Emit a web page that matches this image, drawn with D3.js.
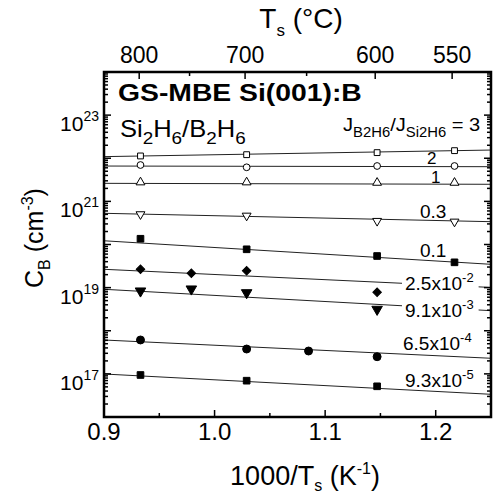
<!DOCTYPE html>
<html>
<head>
<meta charset="utf-8">
<script src="https://cdn.jsdelivr.net/npm/d3@7"></script>
<style>
  body { margin: 0; background: #fff; }
  svg { display: block; font-family: "Liberation Sans", Arial, sans-serif; }
</style>
</head>
<body>
<svg id="chart" width="493" height="497"></svg>
<script>
// axis ticks
const xTicksMajor = [0.9, 1.0, 1.1, 1.2]
const xTicksMinor = [0.95, 1.05, 1.15]
const tempTicksMajor = [800, 700, 600, 550]
const tempTicksMinor = [750, 650]
const yLabelExps = [17, 19, 21, 23]

// J(B2H6)/J(Si2H6) flux ratios: [mantissa, exponent]
const ratioLabels = [
  ['2', null], ['1', null], ['0.3', null], ['0.1', null],
  ['2.5x10', '-2'], ['9.1x10', '-3'], ['6.5x10', '-4'], ['9.3x10', '-5'],
]

// 1000/Ts of the measurements
const xMain = [0.933, 1.029, 1.147, 1.217]
const xWithMid750 = [0.933, 0.979, 1.029, 1.147]
const xWithMid650 = [0.933, 1.029, 1.085, 1.147]
const xLowest = [0.933, 1.029, 1.147]
const seriesX = [xMain, xMain, xMain, xMain, xMain, xWithMid750, xWithMid750, xWithMid650, xLowest]

// boron concentration C_B (cm^-3), one array per flux ratio
const cb3 = [1.13e22, 1.21e22, 1.35e22, 1.50e22]
const cb2 = [6.97e21, 6.17e21, 6.61e21, 6.61e21]
const cb1 = [2.77e21, 2.77e21, 2.71e21, 2.71e21]
const cb03 = [5.01e20, 4.65e20, 3.51e20, 3.38e20]
const cb01 = [1.36e20, 7.74e19, 5.41e19, 3.86e19]
const cb25e2 = [2.66e19, 2.15e19, 2.47e19, 7.79e18]
const cb91e3 = [8.35e18, 9.29e18, 7.62e18, 3.14e18]
const cb65e4 = [6.11e17, 3.77e17, 3.39e17, 2.50e17]
const cb93e5 = [9.42e16, 6.95e16, 5.15e16]
const seriesC = [cb3, cb2, cb1, cb03, cb01, cb25e2, cb91e3, cb65e4, cb93e5]

// fitted lines, C_B at 1000/Ts = 0.9 and 1.25
const fitStart = [1.09e22, 6.6e21, 2.62e21, 5.29e20, 1.22e20, 2.66e19, 9.15e18, 6.1e17, 9.93e16]
const fitEnd = [1.55e22, 6.37e21, 2.49e21, 3.38e20, 3.47e19, 1.01e19, 2.92e18, 2.30e17, 3.36e16]

const markerTypes = ['sqOpen', 'circOpen', 'triUpOpen', 'triDownOpen', 'sqFill', 'diamond', 'triDownFill', 'circFill', 'sqFill']
const labelPos = [[427, 164], [431, 183], [420, 218], [420, 257], [405, 290], [405, 317], [403, 350], [405, 387]]

const plot = { left: 104, right: 491, top: 72, bottom: 417 }
const svg = d3.select('#chart')

const x = d3.scaleLinear().domain([0.9, 1.25]).range([plot.left, plot.right])
const y = d3.scaleLog().domain([1e16, 1e24]).range([plot.bottom, plot.top])
const tempToX = (t) => x(1000 / (t + 273.15))

// horizontally stretched text (the original figure is a bit wide)
function wideText(px, py, sx, size) {
  return svg.append('g')
    .attr('transform', `translate(${px},${py}) scale(${sx},1)`)
    .append('text')
    .attr('font-size', size)
}

// fit lines
const line = d3.line().x((d) => x(d[0])).y((d) => y(d[1]))
svg.append('g').selectAll('path')
  .data(fitStart.map((s, i) => [[0.9, s], [1.25, fitEnd[i]]]))
  .join('path')
  .attr('d', line)
  .attr('fill', 'none')
  .attr('stroke', '#222')
  .attr('stroke-width', 1)

// markers
const symbolFor = {
  sqOpen: [d3.symbolSquare, 34, 0, false],
  circOpen: [d3.symbolCircle, 36, 0, false],
  triUpOpen: [d3.symbolTriangle, 34, 0, false],
  triDownOpen: [d3.symbolTriangle, 34, 180, false],
  sqFill: [d3.symbolSquare, 44, 0, true],
  diamond: [d3.symbolSquare, 36, 45, true],
  triDownFill: [d3.symbolTriangle, 48, 180, true],
  circFill: [d3.symbolCircle, 50, 0, true],
}
const points = []
seriesC.forEach((vals, i) => {
  vals.forEach((v, j) => points.push({ x: seriesX[i][j], c: v, type: markerTypes[i] }))
})
svg.append('g').selectAll('path')
  .data(points)
  .join('path')
  .attr('d', (d) => d3.symbol(symbolFor[d.type][0], symbolFor[d.type][1])())
  .attr('transform', (d) => `translate(${x(d.x)},${y(d.c)}) rotate(${symbolFor[d.type][2]})`)
  .attr('fill', (d) => (symbolFor[d.type][3] ? '#000' : '#fff'))
  .attr('stroke', '#000')
  .attr('stroke-width', 1)

// series labels
const labelLayer = svg.append('g')
ratioLabels.forEach(([m, e], i) => {
  const g = labelLayer.append('g')
  const t = g.append('text')
    .attr('x', labelPos[i][0])
    .attr('y', labelPos[i][1])
    .attr('font-size', i < 2 ? 17 : 19)
    .text(m)
  if (e) {
    t.append('tspan').attr('dy', -8).attr('font-size', 13).text(e)
  }
  if (i === 4 || i === 5) {
    const b = t.node().getBBox()
    g.insert('rect', 'text')
      .attr('x', b.x - 3).attr('y', b.y + 2)
      .attr('width', b.width + 8).attr('height', b.height - 2)
      .attr('fill', '#fff')
  }
})

// header label J_B2H6/J_Si2H6 = 3
const hdr = wideText(343, 131, 1.06, 19)
hdr.append('tspan').text('J')
hdr.append('tspan').attr('dy', 6).attr('font-size', 14).text('B2H6')
hdr.append('tspan').attr('dy', -6).text('/J')
hdr.append('tspan').attr('dy', 6).attr('font-size', 14).text('Si2H6')
hdr.append('tspan').attr('dy', -6).text(' = 3')

// titles inside plot
wideText(118, 101, 1.18, 24)
  .attr('font-weight', 'bold')
  .text('GS-MBE Si(001):B')
const sub = wideText(120, 137, 1.11, 23)
sub.append('tspan').text('Si')
sub.append('tspan').attr('dy', 7).attr('font-size', 17).text('2')
sub.append('tspan').attr('dy', -7).text('H')
sub.append('tspan').attr('dy', 7).attr('font-size', 17).text('6')
sub.append('tspan').attr('dy', -7).text('/B')
sub.append('tspan').attr('dy', 7).attr('font-size', 17).text('2')
sub.append('tspan').attr('dy', -7).text('H')
sub.append('tspan').attr('dy', 7).attr('font-size', 17).text('6')

// ticks
const ticks = svg.append('g').attr('stroke', '#000').attr('stroke-width', 1.5)
const decades = d3.range(16, 25)
const yMinor = []
decades.slice(0, -1).forEach((e) => d3.range(2, 10).forEach((k) => yMinor.push(k * Math.pow(10, e))))
const yTicks = decades.map((e) => ({ v: Math.pow(10, e), len: 7 }))
  .concat(yMinor.map((v) => ({ v, len: 4 })))
yTicks.forEach((t) => {
  ticks.append('line').attr('x1', plot.left).attr('x2', plot.left + t.len).attr('y1', y(t.v)).attr('y2', y(t.v))
  ticks.append('line').attr('x1', plot.right).attr('x2', plot.right - t.len).attr('y1', y(t.v)).attr('y2', y(t.v))
})
xTicksMajor.map((v) => ({ v, len: 7 })).concat(xTicksMinor.map((v) => ({ v, len: 4 }))).forEach((t) => {
  ticks.append('line').attr('x1', x(t.v)).attr('x2', x(t.v)).attr('y1', plot.bottom).attr('y2', plot.bottom - t.len)
})
tempTicksMajor.map((v) => ({ v, len: 7 })).concat(tempTicksMinor.map((v) => ({ v, len: 4 }))).forEach((t) => {
  ticks.append('line').attr('x1', tempToX(t.v)).attr('x2', tempToX(t.v)).attr('y1', plot.top).attr('y2', plot.top + t.len)
})

// frame
svg.append('rect')
  .attr('x', plot.left).attr('y', plot.top)
  .attr('width', plot.right - plot.left).attr('height', plot.bottom - plot.top)
  .attr('fill', 'none').attr('stroke', '#000').attr('stroke-width', 2.5)

// tick labels
svg.append('g').selectAll('text')
  .data(xTicksMajor)
  .join('text')
  .attr('x', (d) => x(d)).attr('y', 440)
  .attr('text-anchor', 'middle').attr('font-size', 24)
  .text((d) => d3.format('.1f')(d))
svg.append('g').selectAll('text')
  .data(tempTicksMajor)
  .join('text')
  .attr('x', (d) => tempToX(d)).attr('y', 63)
  .attr('text-anchor', 'middle').attr('font-size', 23)
  .text((d) => d)
yLabelExps.forEach((e) => {
  const t = svg.append('text')
    .attr('x', 99).attr('y', y(Math.pow(10, e)) + 16)
    .attr('text-anchor', 'end').attr('font-size', 21)
  t.append('tspan').text('10')
  t.append('tspan').attr('dy', -10).attr('font-size', 14).text(e)
})

// axis titles
const xt = svg.append('text').attr('x', 305).attr('y', 485).attr('text-anchor', 'middle').attr('font-size', 27)
xt.append('tspan').text('1000/T')
xt.append('tspan').attr('dy', 6).attr('font-size', 16).text('s')
xt.append('tspan').attr('dy', -6).text(' (K')
xt.append('tspan').attr('dy', -11).attr('font-size', 16).text('-1')
xt.append('tspan').attr('dy', 11).text(')')

const tt = svg.append('text').attr('x', 301).attr('y', 28).attr('text-anchor', 'middle').attr('font-size', 28)
tt.append('tspan').text('T')
tt.append('tspan').attr('dy', 8).attr('font-size', 17).text('s')
tt.append('tspan').attr('dy', -8).text(' (°C)')

const yt = svg.append('text')
  .attr('transform', 'translate(43,238) rotate(-90)')
  .attr('text-anchor', 'middle').attr('font-size', 25)
yt.append('tspan').text('C')
yt.append('tspan').attr('dy', 7).attr('font-size', 16).text('B')
yt.append('tspan').attr('dy', -7).text(' (cm')
yt.append('tspan').attr('dy', -10).attr('font-size', 16).text('-3')
yt.append('tspan').attr('dy', 10).text(')')
</script>
</body>
</html>
